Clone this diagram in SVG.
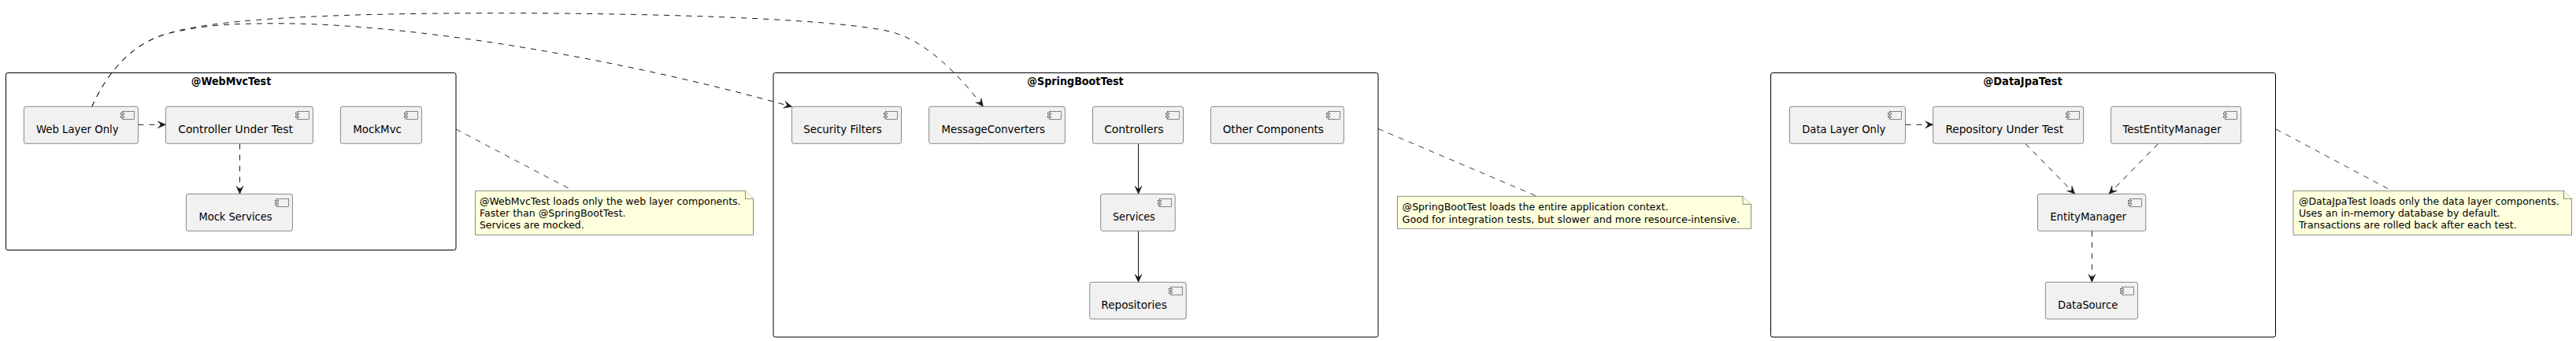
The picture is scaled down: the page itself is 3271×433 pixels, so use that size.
<svg xmlns="http://www.w3.org/2000/svg" width="3271" height="433" viewBox="0 0 3271 433">
<style>
text{font-family:"DejaVu Sans",sans-serif;fill:#000}
.frame{fill:none;stroke:#000;stroke-width:1}
.title{font-size:14px;font-weight:700;text-anchor:middle}
.body{fill:#F1F1F1;stroke:#181818;stroke-width:.5}
.label{font-size:14px}
.note{fill:#FEFFDD;stroke:#181818;stroke-width:.5}
.nt{font-size:13px}
.c{fill:none;stroke:#181818;stroke-width:1}
.d{stroke-dasharray:7 7}
.n{stroke-width:.85;stroke-dasharray:7 7;fill:none;stroke:#181818}
</style>
<defs>
<marker id="arrow" markerUnits="userSpaceOnUse" markerWidth="14" markerHeight="12" refX="11" refY="6" orient="auto" overflow="visible"><path d="M1,1.5L11,6L1,10.5L5,6Z" fill="#181818" stroke="#181818" stroke-width=".5"/></marker>
<g id="icon"><rect class="body" x="-20" y="6" width="15" height="10"/><rect class="body" x="-22" y="8" width="4" height="2"/><rect class="body" x="-22" y="12" width="4" height="2"/></g>
</defs>
<rect width="3271" height="433" fill="#fff"/>
<g id="frame-webmvc"><rect class="frame" x="7.5" y="92.5" width="571.5" height="225" rx="2.5"/><text class="title" x="293.5" y="107.5" textLength="101.4" lengthAdjust="spacingAndGlyphs">@WebMvcTest</text></g>
<g id="frame-springboot"><rect class="frame" x="982" y="92.5" width="768" height="335.5" rx="2.5"/><text class="title" x="1365.5" y="107.5" textLength="122.4" lengthAdjust="spacingAndGlyphs">@SpringBootTest</text></g>
<g id="frame-datajpa"><rect class="frame" x="2248.5" y="92.5" width="641" height="335.5" rx="2.5"/><text class="title" x="2568.5" y="107.5" textLength="100.3" lengthAdjust="spacingAndGlyphs">@DataJpaTest</text></g>

<g id="connectors">
<path class="c d" marker-end="url(#arrow)" d="M116.7,135.3C135,95 165,55 215,42C260,32 295,30 330,30C500,26 780,72 1005.5,135.5"/>
<path class="c d" marker-end="url(#arrow)" d="M116.7,135.3C135,95 165,55 215,42C280,22 450,16.7 638,16.7C800,16.7 1050,22 1130,40C1170,50 1210,85 1248.5,135.3"/>
<path class="c d" marker-end="url(#arrow)" d="M175.5,158.3H210.3"/>
<path class="c d" marker-end="url(#arrow)" d="M304.5,182.5V246.3"/>
<path class="c" marker-end="url(#arrow)" d="M1445.5,182.5V246.3"/>
<path class="c" marker-end="url(#arrow)" d="M1445.5,293.5V358.3"/>
<path class="c d" marker-end="url(#arrow)" d="M2419.5,158.3H2454.6"/>
<path class="c d" marker-end="url(#arrow)" d="M2571.8,182.5L2634.7,246.3"/>
<path class="c d" marker-end="url(#arrow)" d="M2740.4,182.5L2678,246.3"/>
<path class="c d" marker-end="url(#arrow)" d="M2656.3,293.5V358.3"/>
<path class="n" d="M579,164L722.6,239.5"/>
<path class="n" d="M1750,163.5L1950,248.5"/>
<path class="n" d="M2890,164L3032,239.5"/>
</g>

<g id="web-layer-only"><rect class="body" x="30.4" y="135.3" width="145" height="47" rx="2.5"/><use href="#icon" x="175.4" y="135.3"/><text class="label" x="46" y="169" textLength="104.6" lengthAdjust="spacingAndGlyphs">Web Layer Only</text></g>
<g id="controller-under-test"><rect class="body" x="210.4" y="135.3" width="187" height="47" rx="2.5"/><use href="#icon" x="397.4" y="135.3"/><text class="label" x="226.3" y="169" textLength="145.6" lengthAdjust="spacingAndGlyphs">Controller Under Test</text></g>
<g id="mockmvc"><rect class="body" x="432.4" y="135.3" width="103" height="47" rx="2.5"/><use href="#icon" x="535.4" y="135.3"/><text class="label" x="448.3" y="169" textLength="61.6" lengthAdjust="spacingAndGlyphs">MockMvc</text></g>
<g id="mock-services"><rect class="body" x="236.4" y="246.3" width="135" height="47" rx="2.5"/><use href="#icon" x="371.4" y="246.3"/><text class="label" x="252.5" y="280" textLength="93" lengthAdjust="spacingAndGlyphs">Mock Services</text></g>

<g id="security-filters"><rect class="body" x="1005.5" y="135.3" width="139" height="47" rx="2.5"/><use href="#icon" x="1144.5" y="135.3"/><text class="label" x="1020.2" y="169" textLength="99.5" lengthAdjust="spacingAndGlyphs">Security Filters</text></g>
<g id="message-converters"><rect class="body" x="1179.6" y="135.3" width="172.8" height="47" rx="2.5"/><use href="#icon" x="1352.4" y="135.3"/><text class="label" x="1195.5" y="169" textLength="131.4" lengthAdjust="spacingAndGlyphs">MessageConverters</text></g>
<g id="controllers"><rect class="body" x="1387.5" y="135.3" width="115" height="47" rx="2.5"/><use href="#icon" x="1502.5" y="135.3"/><text class="label" x="1402.2" y="169" textLength="75.3" lengthAdjust="spacingAndGlyphs">Controllers</text></g>
<g id="other-components"><rect class="body" x="1537.4" y="135.3" width="169" height="47" rx="2.5"/><use href="#icon" x="1706.4" y="135.3"/><text class="label" x="1552.7" y="169" textLength="128.2" lengthAdjust="spacingAndGlyphs">Other Components</text></g>
<g id="services"><rect class="body" x="1397.7" y="246.3" width="94.5" height="47" rx="2.5"/><use href="#icon" x="1492.2" y="246.3"/><text class="label" x="1413" y="280" textLength="53.6" lengthAdjust="spacingAndGlyphs">Services</text></g>
<g id="repositories"><rect class="body" x="1383.7" y="358.3" width="122.5" height="46.8" rx="2.5"/><use href="#icon" x="1506.2" y="358.3"/><text class="label" x="1398.3" y="392" textLength="83.5" lengthAdjust="spacingAndGlyphs">Repositories</text></g>

<g id="data-layer-only"><rect class="body" x="2272.4" y="135.3" width="147" height="47" rx="2.5"/><use href="#icon" x="2419.4" y="135.3"/><text class="label" x="2288.3" y="169" textLength="106" lengthAdjust="spacingAndGlyphs">Data Layer Only</text></g>
<g id="repository-under-test"><rect class="body" x="2454.6" y="135.3" width="191" height="47" rx="2.5"/><use href="#icon" x="2645.6" y="135.3"/><text class="label" x="2470.4" y="169" textLength="149.6" lengthAdjust="spacingAndGlyphs">Repository Under Test</text></g>
<g id="test-entity-manager"><rect class="body" x="2680.4" y="135.3" width="165.2" height="47" rx="2.5"/><use href="#icon" x="2845.6" y="135.3"/><text class="label" x="2695.2" y="169" textLength="125.4" lengthAdjust="spacingAndGlyphs">TestEntityManager</text></g>
<g id="entity-manager"><rect class="body" x="2587.5" y="246.3" width="137.2" height="47" rx="2.5"/><use href="#icon" x="2724.7" y="246.3"/><text class="label" x="2603.2" y="280" textLength="96.9" lengthAdjust="spacingAndGlyphs">EntityManager</text></g>
<g id="data-source"><rect class="body" x="2597.3" y="358.3" width="117.2" height="46.8" rx="2.5"/><use href="#icon" x="2714.5" y="358.3"/><text class="label" x="2613" y="392" textLength="76.2" lengthAdjust="spacingAndGlyphs">DataSource</text></g>

<g id="note-webmvc"><path class="note" d="M603.5,242.3H946.5L956.5,252.3V298.3H603.5Z"/><path class="note" d="M946.5,242.3V252.3H956.5"/><text class="nt" x="609" y="260" textLength="331.6" lengthAdjust="spacingAndGlyphs">@WebMvcTest loads only the web layer components.</text><text class="nt" x="609" y="275" textLength="185.6" lengthAdjust="spacingAndGlyphs">Faster than @SpringBootTest.</text><text class="nt" x="609" y="290" textLength="132.6" lengthAdjust="spacingAndGlyphs">Services are mocked.</text></g>
<g id="note-springboot"><path class="note" d="M1774.5,249.3H2213L2223.5,259.3V290.3H1774.5Z"/><path class="note" d="M2213,249.3V259.3H2223.5"/><text class="nt" x="1780.6" y="267" textLength="337.8" lengthAdjust="spacingAndGlyphs">@SpringBootTest loads the entire application context.</text><text class="nt" x="1780.6" y="282.5" textLength="428.6" lengthAdjust="spacingAndGlyphs">Good for integration tests, but slower and more resource-intensive.</text></g>
<g id="note-datajpa"><path class="note" d="M2912,242.3H3255.5L3265.5,252.3V298.3H2912Z"/><path class="note" d="M3255.5,242.3V252.3H3265.5"/><text class="nt" x="2918.9" y="260" textLength="330.9" lengthAdjust="spacingAndGlyphs">@DataJpaTest loads only the data layer components.</text><text class="nt" x="2918.9" y="275" textLength="255.7" lengthAdjust="spacingAndGlyphs">Uses an in-memory database by default.</text><text class="nt" x="2918.9" y="290" textLength="276.8" lengthAdjust="spacingAndGlyphs">Transactions are rolled back after each test.</text></g>
</svg>
